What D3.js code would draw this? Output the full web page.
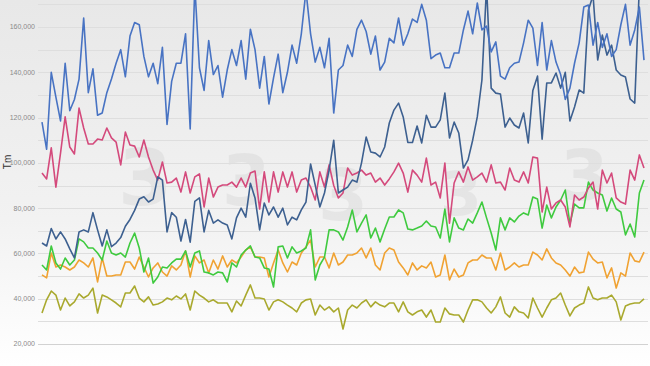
<!DOCTYPE html>
<html>
<head>
<meta charset="utf-8">
<script src="https://cdn.jsdelivr.net/npm/d3@7"></script>
<style>
  html, body { margin: 0; padding: 0; background: #fff; }
  svg { display: block; }
  .tick-label { font-family: "Liberation Sans", Arial, sans-serif; font-size: 7px; fill: #8a8a8a; }
  .axis-title { font-family: "Liberation Sans", Arial, sans-serif; font-size: 10px; fill: #333; }
</style>
</head>
<body>
<div id="chart"></div>
<script>

//
// Data (values in thousands)
//
var tickValues = [20, 40, 60, 80, 100, 120, 140, 160];
var gridValues = [10, 20, 30, 40, 50, 60, 70, 80, 90, 100, 110, 120, 130, 140, 150, 160, 170];

var seriesTop = [118,106,140,129,118.5,144,123,128,137,164,131,141.5,121,122,131,137,144,150,138,156,162,161,147,138,144,135,
    151,117,136,144,144,157,115,178,142,132,154,139,143,129,141,150,143,154,137,159,150,133,147,126,137.5,148,131,140,152,144,157,176,157,144.5,151,142,155,122,141,143,152,147,159,163,158,148,156,
    141,144.5,155,153,164,152,157,163.5,162,170,163,146,147.6,148.5,142,142,148.5,148.5,158.7,167,157,170.6,158.7,160.4,149,153.4,138.3,137,142,144,144.5,153,163,159.5,143,162,141,154,144.5,139,128,133,144,153,168.8,169.7,152,162,151,157,147,150,161,170,152,158.7,168.8,145.4];

var seriesRise = [64.6,63.3,71,66.4,69.5,66.4,62,58,69.5,70.4,69.5,78,70.4,63.3,70.4,63,64.6,67,72,75,79,84,85,82.7,84,93.8,
    92.4,69.5,78,76,65.5,75,65,83,84.5,69.5,79,73.4,74.8,73.4,72.6,66.4,75.7,80,76,91,84.5,70.4,82.3,77,80.5,76,
    80,72.6,76,74.8,79.2,82.7,99.5,90.2,80.5,86.7,96.8,110,86.7,88,89.3,92.4,91.5,100,111.4,104.8,104.3,102.6,107,117.6,123.3,126.4,120.3,
    109,109,116.3,108.8,121,115.8,115.8,119,130.8,111,118,113.2,97.7,101.3,110,120.3,136.6,178,133,130.8,130.4,115.8,119.8,116.7,115.4,
    122,108.8,132,138.3,110.5,135.3,135.3,139.7,133,140,118.5,124.7,132.2,130.8,167.5,174,145.4,156.4,147.6,152,141,138.8,137.9,128.2,126.4,178,178];

var seriesPink = [95.5,92.9,106.6,89.3,104.3,120.3,107,103.9,124.2,115.4,108.3,108.3,110.5,110.1,115.4,111,109.2,99.1,113.6,107.9,107.4,102.6,110.1,102.6,96.8,92.4,
    100.4,91.1,91.5,93.3,87.1,96,86.7,93.8,95.1,80.5,93.3,84.9,89.3,90.2,90.2,91.5,89.3,93.3,89.3,95.5,96.4,79.6,96,82.7,96,87.1,
    96,89.3,96,87.1,92.4,93.3,89.3,83.6,96,89.3,99.1,90,84.5,86.7,97.7,94.6,95.5,96.8,94.6,95.5,91.5,93.3,90.2,92.9,96,99.9,
    95.5,87.1,96.8,94.6,91.5,102.1,90.2,91.5,84.5,99.9,73.4,91.1,96,91.5,98.2,92.4,93.8,95.5,91.5,99.1,91.1,91.5,88,97.7,92.4,91.5,
    96,91.1,102.6,102.1,78.3,89.3,79.6,82.3,83.6,80.5,71.7,85.8,83.6,84.9,88.9,91.5,79.6,96.8,91.1,95.5,84.5,82.7,81.8,96.8,92.4,103.5,97.7];

var seriesGreen = [54.9,52.7,63.3,55.8,53.1,58,54.9,57.1,66.4,65.1,62.4,62.4,60.2,57.1,65.5,60.2,59.3,60.2,58.4,64.6,69,62.4,51.8,58,46.9,49.6,
    54,53.6,55.8,57.5,57.5,61.1,54,60.2,61.1,51.8,51.4,50.5,51.8,51.4,47.4,55.8,54,59.3,61.5,63.3,58.4,58,53.6,53.1,45.2,62.9,
    63.3,58,62.9,60.2,61.1,62.4,70.4,48.3,54.9,58.4,70.4,70.4,69.5,65.9,71.7,79.2,69.5,73.4,77,66.8,71.2,65.1,70.8,76.1,76.1,79.2,
    77.9,70.8,70.4,71.2,72.1,74.3,72.1,71.7,66.8,79.6,65.1,75.7,71.2,70.4,75.2,73.4,77.9,82.7,75.7,69,61.5,75.7,70.4,75.7,73.9,76.5,
    77.9,77,84.9,84,71.2,81.4,75.7,80.5,83.6,88,73,81.8,80.1,80.1,91.5,88,86.7,85.8,78.7,84.5,79.6,78.3,68.2,73,67.3,86.7,92.4];

var seriesOrange = [50.5,49.2,60.2,54,54.9,54,52.7,54,57.1,55.8,54,58,47.4,58,50,50,50.5,50.5,56.2,56.2,53.1,58.4,54,49.6,53.6,55.8,
    51.8,50,54.5,52.7,54.9,61.1,49.6,58.9,55.8,57.1,51.4,57.1,53.1,58.9,54,57.1,55.8,58.4,61.5,62.9,58.4,58.4,58,49.6,55.8,61.5,
    55.8,51.8,56.2,54.9,60.2,62.9,65.9,54,58.4,58.4,53.6,60.2,54.9,56.2,59.3,59.3,60.2,62.4,58,62.4,54.9,52.7,60.2,62.4,61.5,56.2,
    53.6,50.5,55.8,52.7,54.5,53.6,56.2,49.6,50.5,59.3,48.3,53.1,49.6,50.5,55.8,57.1,57.1,59.3,58,58,52.7,60.2,52.7,54,55.8,54,
    54.9,54.9,60.6,59.3,57.1,62,58,55.8,54.9,52.7,50,54,51.4,51.8,60.6,57.5,55.8,56.2,49.2,53.6,44.7,51.4,50,60.2,56.7,56.2,60.6];

var seriesOlive = [33.7,39.5,43.4,41.6,35,40.3,36.8,38.6,42.1,40.3,41.6,44.7,33.7,41.6,40.8,39.5,38.1,36.4,42.5,42.5,45.6,40.3,38.6,40.8,37.2,37.7,
    38.6,40.3,39.5,41.2,39.9,42.1,35,43.4,41.6,40.3,38.6,39.5,38.1,38.1,38.1,34.2,39,36.8,41.6,46.1,40.3,40.3,39.9,35,38.6,39.5,
    38.6,37.2,35.9,34.2,38.1,39.5,39.9,32.8,37.2,35,36.4,34.2,35.9,26.6,35,37.2,35.9,38.1,39.5,36.4,38.6,37.2,36.4,38.1,38.1,34.2,
    38.6,34.2,32.8,34.2,35,31.9,35,29.7,29.7,35.9,33.3,32.8,32.8,29.7,35,39.5,39.5,38.6,35.9,33.7,36.4,40.8,33.7,31.9,36.4,34.2,
    33.7,31.5,40.3,35.9,31.9,35.9,39.5,40.3,42.5,37.2,32.4,35.9,37.2,38.1,45.2,40.3,39.5,40.3,40.3,41.6,38.6,30.6,36.8,37.7,38.1,38.1,39.9];

var seriesColors = ["#a9a92e", "#f0a232", "#3fca3f", "#d44a7c", "#3d6090", "#4873c3"];

//
// Global Vars
//
var width = 650,
    height = 366;

var svg = d3.select("#chart").append("svg")
    .attr("width", width)
    .attr("height", height);

// background gradient //
var defs = svg.append("defs");
var grad = defs.append("linearGradient")
    .attr("id", "bg")
    .attr("x1", 0).attr("y1", 0)
    .attr("x2", 0).attr("y2", 1);
grad.append("stop").attr("offset", "0%").attr("stop-color", "#e8e8e8");
grad.append("stop").attr("offset", "60%").attr("stop-color", "#f2f2f2");
grad.append("stop").attr("offset", "100%").attr("stop-color", "#ffffff");

svg.append("rect")
    .attr("width", width)
    .attr("height", height)
    .attr("fill", "url(#bg)");

// faint watermark //
var marks = [[118, 205, 78], [222, 205, 70], [318, 220, 72], [440, 215, 60], [560, 200, 70]];
svg.append("g")
    .selectAll("text")
    .data(marks)
    .enter().append("text")
    .attr("x", function(d) { return d[0]; })
    .attr("y", function(d) { return d[1]; })
    .attr("font-size", function(d) { return d[2]; })
    .attr("font-family", "DejaVu Sans, sans-serif")
    .attr("font-weight", "bold")
    .attr("fill", "#000")
    .attr("opacity", 0.045)
    .text("3");

//
// Scales
//
var n = seriesTop.length;
var x = d3.scaleLinear().domain([0, n - 1]).range([42, 644]);
var y = d3.scaleLinear().domain([20, 160]).range([344, 27]);

// grid //
svg.append("g")
    .selectAll("line")
    .data(gridValues)
    .enter().append("line")
    .attr("x1", 38)
    .attr("x2", 648)
    .attr("y1", function(d) { return Math.round(y(d)) + 0.5; })
    .attr("y2", function(d) { return Math.round(y(d)) + 0.5; })
    .attr("stroke", function(d) { return d == 20 ? "#d2d2d2" : "#dedede"; })
    .attr("stroke-width", 1);

svg.append("g")
    .selectAll("text")
    .data(tickValues)
    .enter().append("text")
    .attr("class", "tick-label")
    .attr("x", 35)
    .attr("y", function(d) { return y(d); })
    .attr("dy", "0.35em")
    .attr("text-anchor", "end")
    .text(function(d) { return d3.format(",")(d * 1000); });

svg.append("text")
    .attr("class", "axis-title")
    .attr("transform", "translate(11,162) rotate(-90)")
    .attr("text-anchor", "middle")
    .text("Tm");

//
// Lines
//
var line = d3.line()
    .x(function(d, i) { return x(i); })
    .y(function(d) { return y(d); });

var allSeries = [seriesOlive, seriesOrange, seriesGreen, seriesPink, seriesRise, seriesTop];

svg.append("g")
    .selectAll("path")
    .data(allSeries)
    .enter().append("path")
    .attr("d", line)
    .attr("fill", "none")
    .attr("stroke", function(d, i) { return seriesColors[i]; })
    .attr("stroke-width", 1.6)
    .attr("stroke-linejoin", "round");

</script>
</body>
</html>
